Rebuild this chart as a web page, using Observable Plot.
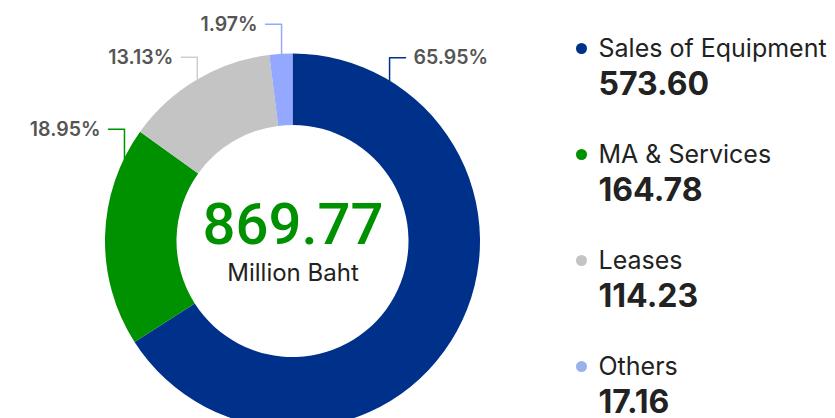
<!DOCTYPE html>
<html><head><meta charset="utf-8">
<script src="https://cdn.jsdelivr.net/npm/d3@7"></script>
<script src="https://cdn.jsdelivr.net/npm/@observablehq/plot@0.6"></script>
<style>html,body{margin:0;padding:0;background:#fff;overflow:hidden}</style>
</head><body><div id="chart"></div>
<script>
// ---- data ----
const categories = ["Sales of Equipment", "MA & Services", "Leases", "Others"];
const values = [573.60, 164.78, 114.23, 17.16];
const valueLabels = ["573.60", "164.78", "114.23", "17.16"];
const percentLabels = ["65.95%", "18.95%", "13.13%", "1.97%"];
const totalLabel = "869.77";
const unitLabel = "Million Baht";
const sliceColors = ["#00318a", "#009100", "#c4c4c4", "#94a8ff"];
const dotColors = ["#00318a", "#009100", "#c4c4c4", "#9ab2ea"];
const leaderColors = ["#00318a", "#009100", "#cfcfcf", "#94a8ff"];
// angle (deg, clockwise from 12 o'clock) where each label's leader starts
const labelAngles = [31, 296, 329.3, 356.5];

// ---- layout ----
const W = 835, H = 418;
const L = {cx: 292.5, cy: 241, r0: 116, r1: 187.5, lifts: [23, 30, 23, 30], hook: 16, gap: 8,
           legendDotX: 581, legendTextX: 598, legendY0: 48, legendStep: 106, valueDy: 36};
const font = "Inter, 'Noto Sans', sans-serif";

const pie = d3.pie().sort(null).value(d => d)(values);

function donut(index, scales) {
  const sx = scales && typeof scales.x === "function" ? scales.x : (v => v);
  const sy = scales && typeof scales.y === "function" ? scales.y : (v => v);
  const cx = sx(L.cx), cy = sy(L.cy);
  const ri = sx(L.cx + L.r0) - cx, ro = sx(L.cx + L.r1) - cx;
  const arc = d3.arc().innerRadius(ri).outerRadius(ro);
  const g = d3.create("svg:g").attr("transform", `translate(${cx},${cy})`);
  g.selectAll("path").data(pie).join("path")
    .attr("d", arc).attr("fill", (d, i) => sliceColors[i]);
  return g.node();
}

// leader lines & labels
const leaders = [];
const labels = [];
labelAngles.forEach((a, i) => {
  const t = a * Math.PI / 180;
  const x0 = L.cx + L.r1 * Math.sin(t), y0 = L.cy - L.r1 * Math.cos(t);
  const y1 = y0 - L.lifts[i];
  const dir = x0 >= L.cx ? 1 : -1;
  const x2 = x0 + dir * L.hook;
  leaders.push({i, x: x0, y: y0, c: leaderColors[i]}, {i, x: x0, y: y1, c: leaderColors[i]}, {i, x: x2, y: y1, c: leaderColors[i]});
  labels.push({x: x2 + dir * L.gap, y: y1, text: percentLabels[i], side: dir});
});

const legend = categories.map((c, i) => ({
  name: c, value: valueLabels[i], color: dotColors[i],
  y: L.legendY0 + i * L.legendStep
}));

const chart = Plot.plot({
  width: W, height: H,
  margin: 0,
  x: {domain: [0, W], range: [0, W], axis: null},
  y: {domain: [0, H], range: [0, H], axis: null},
  color: {type: "identity"},
  style: {fontFamily: font, background: "#fff"},
  marks: [
    donut,
    Plot.line(leaders, {x: "x", y: "y", z: "i", stroke: "c", strokeWidth: 1.5}),
    Plot.text(labels.filter(d => d.side > 0), {x: "x", y: "y", text: "text", textAnchor: "start", fontSize: 19.5, fontWeight: 600, fill: "#555"}),
    Plot.text(labels.filter(d => d.side < 0), {x: "x", y: "y", text: "text", textAnchor: "end", fontSize: 19.5, fontWeight: 600, fill: "#555"}),
    Plot.text([totalLabel], {x: () => L.cx, y: () => L.cy - 16, text: d => d, fontSize: 58, fontWeight: 500, fontFamily: "Roboto, sans-serif", fill: "#009100"}),
    Plot.text([unitLabel], {x: () => L.cx, y: () => L.cy + 32, text: d => d, fontSize: 24, fill: "#222"}),
    Plot.dot(legend, {x: () => L.legendDotX, y: "y", r: 5.5, fill: "color"}),
    Plot.text(legend, {x: () => L.legendTextX, y: "y", text: "name", textAnchor: "start", fontSize: 25, fill: "#222"}),
    Plot.text(legend, {x: () => L.legendTextX, y: d => d.y + L.valueDy, text: "value", textAnchor: "start", fontSize: 32, fontWeight: 700, fill: "#222"})
  ]
});
document.getElementById("chart").appendChild(chart);
</script>
</body></html>
